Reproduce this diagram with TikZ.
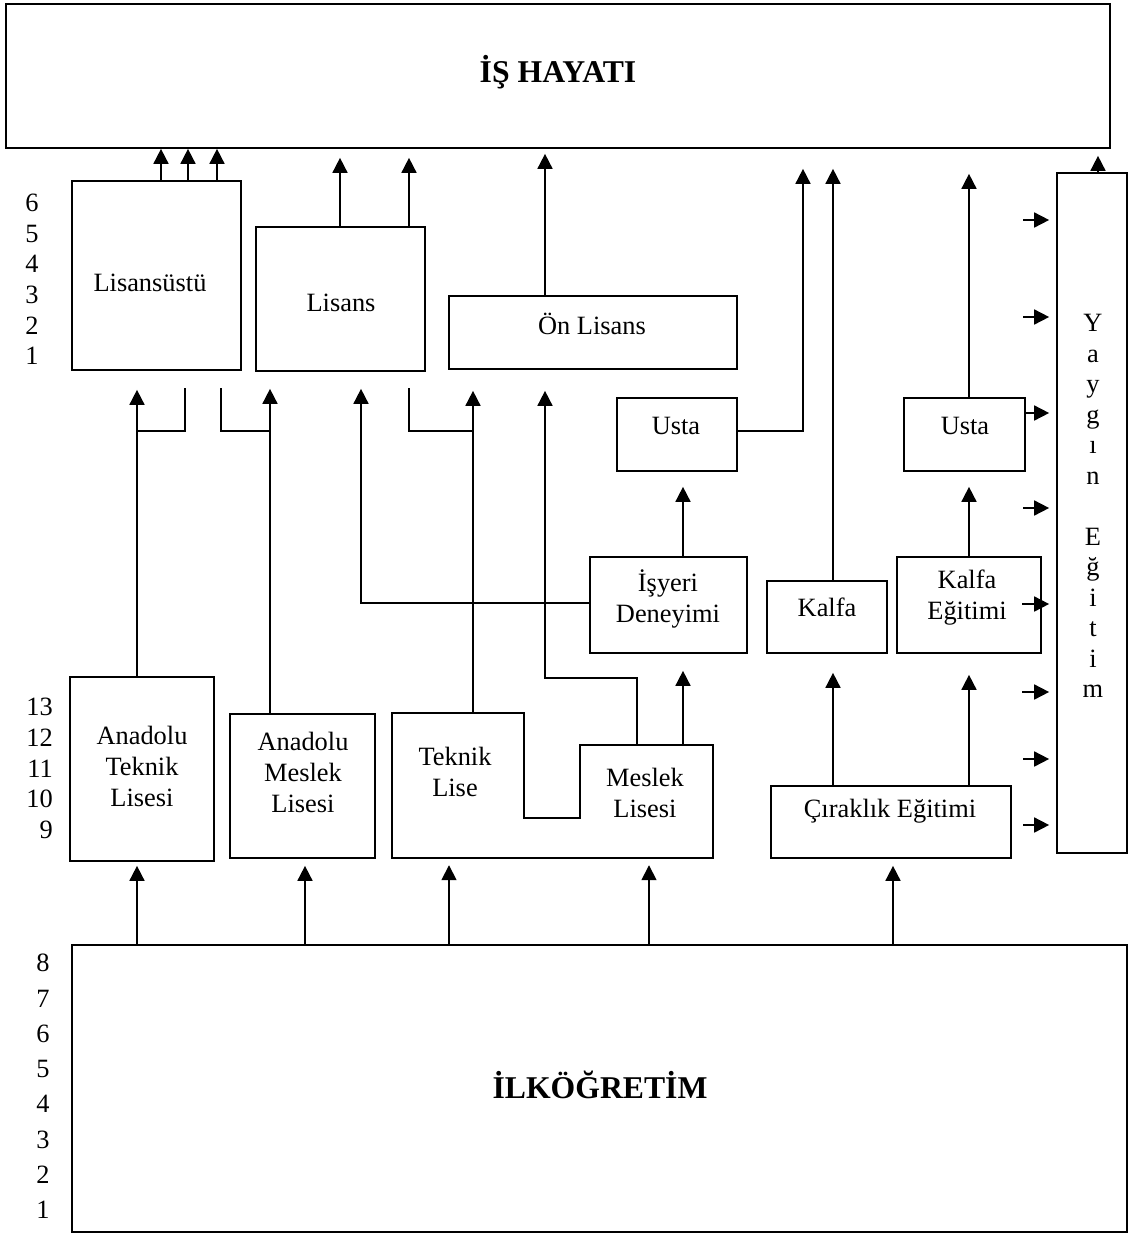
\documentclass[tikz,border=0pt]{standalone}
\usepackage{fontspec}
\setmainfont{Liberation Serif}
\usetikzlibrary{arrows.meta}

\begin{document}
\begin{tikzpicture}[x=1pt,y=-1pt,
	kasten/.style={draw, line width=1.7pt, inner sep=0pt},
	leer/.style={inner sep=0pt},
	linie/.style={line width=1.7pt},
	pfeil/.style={line width=1.7pt, -{Triangle[width=15pt,length=15pt]}},
	schrift/.style={inner sep=0pt, align=center, font=\fontsize{26.4}{31}\selectfont},
	titel/.style={inner sep=0pt, font=\fontsize{31.7}{36}\selectfont\bfseries}]
			\useasboundingbox (0,0) rectangle (1129,1234);
			
			% Zeichnet die Kästen
			\node[kasten, minimum width=1104pt, minimum height=144pt] (ishayati) at (558,76) {};
			\node[kasten, minimum width=169pt, minimum height=189pt] (lisansustu) at (156.5,275.5) {};
			\node[kasten, minimum width=169pt, minimum height=144pt] (lisans) at (340.5,299) {};
			\node[kasten, minimum width=288pt, minimum height=73pt] (onlisans) at (593,332.5) {};
			\node[kasten, minimum width=120pt, minimum height=73pt] (usta) at (677,434.5) {};
			\node[kasten, minimum width=157pt, minimum height=96pt] (isyeri) at (668.5,605) {};
			\node[kasten, minimum width=120pt, minimum height=72pt] (kalfa) at (827,617) {};
			\node[kasten, minimum width=144pt, minimum height=96pt] (kalfaegitimi) at (969,605) {};
			\node[kasten, minimum width=121pt, minimum height=73pt] (usta2) at (964.5,434.5) {};
			\node[kasten, minimum width=70pt, minimum height=680pt] (yaygin) at (1092,513) {};
			\node[kasten, minimum width=240pt, minimum height=72pt] (cirak) at (891,822) {};
			\node[kasten, minimum width=144pt, minimum height=184pt] (anadoluteknik) at (142,769) {};
			\node[kasten, minimum width=145pt, minimum height=144pt] (anadolumeslek) at (302.5,786) {};
			\node[leer, minimum width=132pt, minimum height=145pt] (teknik) at (458,785.5) {};
			\node[leer, minimum width=133pt, minimum height=113pt] (meslek) at (646.5,801.5) {};
			\node[kasten, minimum width=1055pt, minimum height=287pt] (ilk) at (599.5,1088.5) {};
			
			% Zeichnet den gemeinsamen Rahmen von Teknik Lise und Meslek Lisesi
			\draw[linie] (teknik.north west) -- (teknik.north east) -- ++(0,105) -| (meslek.north west) -- (meslek.north east) -- (meslek.south east) -- (teknik.south west) -- cycle;
			
			% Schreibt die Texte
			\node[titel] (t-ishayati) at (558,72) {İŞ HAYATI};
			\node[titel] (t-ilk) at (600,1085) {İLKÖĞRETİM};
			\node[schrift] (t-lisansustu) at (150,283) {Lisansüstü};
			\node[schrift] (t-lisans) at (341,303) {Lisans};
			\node[schrift] (t-onlisans) at (592,324) {Ön Lisans};
			\node[schrift] (t-usta) at (676,426) {Usta};
			\node[schrift] (t-usta2) at (965,426) {Usta};
			\node[schrift] (t-isyeri) at (668,599) {İşyeri\\Deneyimi};
			\node[schrift] (t-kalfa) at (827,607) {Kalfa};
			\node[schrift] (t-kalfaegitimi) at (967,598) {Kalfa\\Eğitimi};
			\node[schrift] (t-cirak) at (890,811) {Çıraklık Eğitimi};
			\node[schrift] (t-anadoluteknik) at (142,766) {Anadolu\\Teknik\\Lisesi};
			\node[schrift] (t-anadolumeslek) at (303,772) {Anadolu\\Meslek\\Lisesi};
			\node[schrift] (t-teknik) at (455,772) {Teknik\\Lise};
			\node[schrift] (t-meslek) at (645,793) {Meslek\\Lisesi};
			\node[schrift, font=\fontsize{26.4}{30.5}\selectfont] (t-yaygin) at (1093,506) {Y\\a\\y\\g\\ı\\n\\[30.5pt]E\\ğ\\i\\t\\i\\m};
			
			% Schreibt die Klassenstufen
			\node[schrift, font=\fontsize{26.4}{30.6}\selectfont] (stufe1) at (32,279.5) {6\\5\\4\\3\\2\\1};
			\node[schrift, align=right, anchor=east, font=\fontsize{26.4}{30.8}\selectfont] (stufe2) at (53,768.5) {13\\12\\11\\10\\9};
			\node[schrift, font=\fontsize{26.4}{35.3}\selectfont] (stufe3) at (43,1086.5) {8\\7\\6\\5\\4\\3\\2\\1};
			
			% Hilfskoordinaten für die Querverbindungen
			\coordinate (quer) at (0,431);
			\coordinate (quer2) at (0,678);
			\coordinate (stummel) at (0,388);
			
			% Zeichnet die Pfeile ins Arbeitsleben
			\draw[pfeil] (161,0 |- lisansustu.north) -- (161,0 |- ishayati.south);
			\draw[pfeil] (188,0 |- lisansustu.north) -- (188,0 |- ishayati.south);
			\draw[pfeil] (217,0 |- lisansustu.north) -- (217,0 |- ishayati.south);
			\draw[pfeil, shorten >=9pt] (340,0 |- lisans.north) -- (340,0 |- ishayati.south);
			\draw[pfeil, shorten >=9pt] (409,0 |- lisans.north) -- (409,0 |- ishayati.south);
			\draw[pfeil, shorten >=5pt] (545,0 |- onlisans.north) -- (545,0 |- ishayati.south);
			\draw[pfeil, shorten >=20pt] (usta.east |- quer) -| (803,0 |- ishayati.south);
			\draw[pfeil, shorten >=20pt] (833,0 |- kalfa.north) -- (833,0 |- ishayati.south);
			\draw[pfeil, shorten >=25pt] (969,0 |- usta2.north) -- (969,0 |- ishayati.south);
			\draw[pfeil, shorten >=7pt] (1098,0 |- yaygin.north) -- (1098,0 |- ishayati.south);
			
			% Zeichnet die Pfeile von den Lisen zur Hochschule
			\draw[pfeil, shorten >=19pt] (137,0 |- anadoluteknik.north) -- (137,0 |- lisansustu.south);
			\draw[linie] (137,0 |- quer) -| (185,0 |- stummel);
			\draw[pfeil, shorten >=17pt] (270,0 |- anadolumeslek.north) -- (270,0 |- lisans.south);
			\draw[linie] (270,0 |- quer) -| (221,0 |- stummel);
			\draw[pfeil, shorten >=17pt] (isyeri.west |- 0,603) -| (361,0 |- lisans.south);
			\draw[pfeil, shorten >=21pt] (473,0 |- teknik.north) -- (473,0 |- onlisans.south);
			\draw[linie] (409,0 |- stummel) |- (473,0 |- quer);
			\draw[pfeil, shorten >=21pt] (637,0 |- meslek.north) -- (637,0 |- quer2) -| (545,0 |- onlisans.south);
			
			% Zeichnet die Pfeile der Meisterausbildung
			\draw[pfeil, shorten >=17pt] (683,0 |- meslek.north) -- (683,0 |- isyeri.south);
			\draw[pfeil, shorten >=15pt] (683,0 |- isyeri.north) -- (683,0 |- usta.south);
			\draw[pfeil, shorten >=19pt] (833,0 |- cirak.north) -- (833,0 |- kalfa.south);
			\draw[pfeil, shorten >=21pt] (969,0 |- cirak.north) -- (969,0 |- kalfaegitimi.south);
			\draw[pfeil, shorten >=15pt] (969,0 |- kalfaegitimi.north) -- (969,0 |- usta2.south);
			
			% Zeichnet die kleinen Pfeile zur Yaygın Eğitim
			\draw[pfeil, shorten >=7pt] (1023,220) -- (yaygin.west |- 0,220);
			\draw[pfeil, shorten >=7pt] (1023,317) -- (yaygin.west |- 0,317);
			\draw[pfeil, shorten >=7pt] (usta2.east |- 0,413) -- (yaygin.west |- 0,413);
			\draw[pfeil, shorten >=7pt] (1023,508) -- (yaygin.west |- 0,508);
			\draw[pfeil, shorten >=7pt] (1022,604) -- (yaygin.west |- 0,604);
			\draw[pfeil, shorten >=7pt] (1022,692) -- (yaygin.west |- 0,692);
			\draw[pfeil, shorten >=7pt] (1023,759) -- (yaygin.west |- 0,759);
			\draw[pfeil, shorten >=7pt] (1023,825) -- (yaygin.west |- 0,825);
			
			% Zeichnet die Pfeile aus der Grundschule
			\draw[pfeil, shorten >=4pt] (137,0 |- ilk.north) -- (137,0 |- anadoluteknik.south);
			\draw[pfeil, shorten >=7pt] (305,0 |- ilk.north) -- (305,0 |- anadolumeslek.south);
			\draw[pfeil, shorten >=7pt] (449,0 |- ilk.north) -- (449,0 |- teknik.south);
			\draw[pfeil, shorten >=7pt] (649,0 |- ilk.north) -- (649,0 |- meslek.south);
			\draw[pfeil, shorten >=7pt] (893,0 |- ilk.north) -- (893,0 |- cirak.south);
		\end{tikzpicture}
\end{document}
